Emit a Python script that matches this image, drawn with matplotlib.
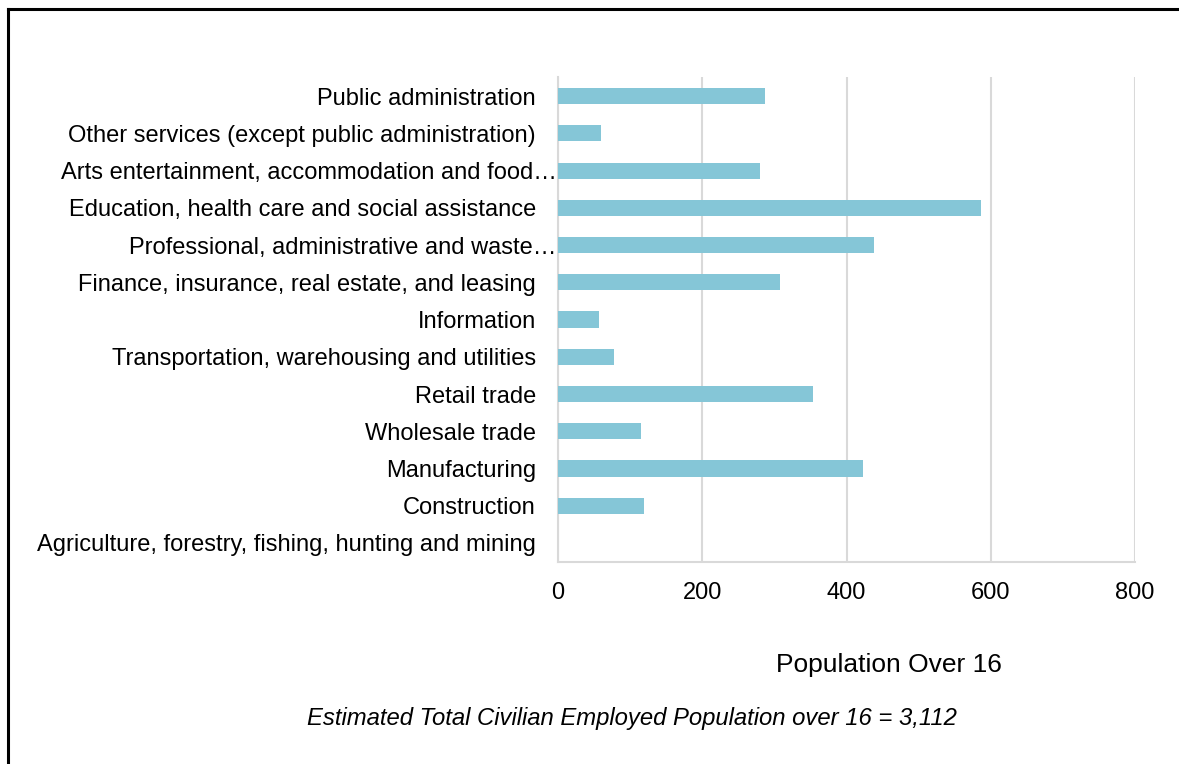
import matplotlib.pyplot as plt
from matplotlib.lines import Line2D

plt.rcParams['font.family'] = ['Liberation Sans', 'DejaVu Sans']

# industries, bottom to top as drawn
industries = [
    'Agriculture, forestry, fishing, hunting and mining',
    'Construction',
    'Manufacturing',
    'Wholesale trade',
    'Retail trade',
    'Transportation, warehousing and utilities',
    'Information',
    'Finance, insurance, real estate, and leasing',
    'Professional, administrative and waste\u2026',
    'Education, health care and social assistance',
    'Arts entertainment, accommodation and food\u2026',
    'Other services (except public administration)',
    'Public administration',
]
population = [0, 119, 423, 115, 354, 78, 57, 308, 438, 587, 280, 60, 287]
xticks = [0, 200, 400, 600, 800]

fig = plt.figure(figsize=(11.79, 7.64), dpi=100)
ax = fig.add_axes([0.4733, 0.2649, 0.4894, 0.6338])

ax.barh(range(len(industries)), population, height=0.43, color='#85C6D7', zorder=3)
ax.set_ylim(-0.5, len(industries) - 0.5)
ax.set_xlim(0, 800)
ax.set_xticks(xticks)
ax.set_yticks(range(len(industries)))

# truncated labels sit right up against the axis, like in Excel
labels = []
for i, name in enumerate(industries):
    if name.endswith('\u2026'):
        labels.append('')
        ax.text(-0.002, i, name, transform=ax.get_yaxis_transform(),
                ha='right', va='center_baseline', fontsize=17)
    else:
        labels.append(name)
ax.set_yticklabels(labels)

ax.tick_params(axis='y', length=0, pad=16, labelsize=17)
ax.tick_params(axis='x', length=0, pad=15, labelsize=17)
ax.grid(axis='x', color='#D9D9D9', linewidth=1.5, zorder=0)
for side in ['top', 'right']:
    ax.spines[side].set_visible(False)
for side in ['left', 'bottom']:
    ax.spines[side].set_color('#D9D9D9')
    ax.spines[side].set_linewidth(1.5)

fig.text(0.7536, 0.129, 'Population Over 16', ha='center', va='center', fontsize=19)
fig.text(0.5356, 0.06, 'Estimated Total Civilian Employed Population over 16 = 3,112',
         ha='center', va='center', fontsize=17.2, style='italic')

# outer frame (left and top edges visible)
fig.add_artist(Line2D([0.0072, 0.0072], [0, 0.988], color='black', linewidth=2.2,
                      transform=fig.transFigure))
fig.add_artist(Line2D([0.0072, 1.0], [0.988, 0.988], color='black', linewidth=2.2,
                      transform=fig.transFigure))

fig.savefig('out.png', dpi=100)
